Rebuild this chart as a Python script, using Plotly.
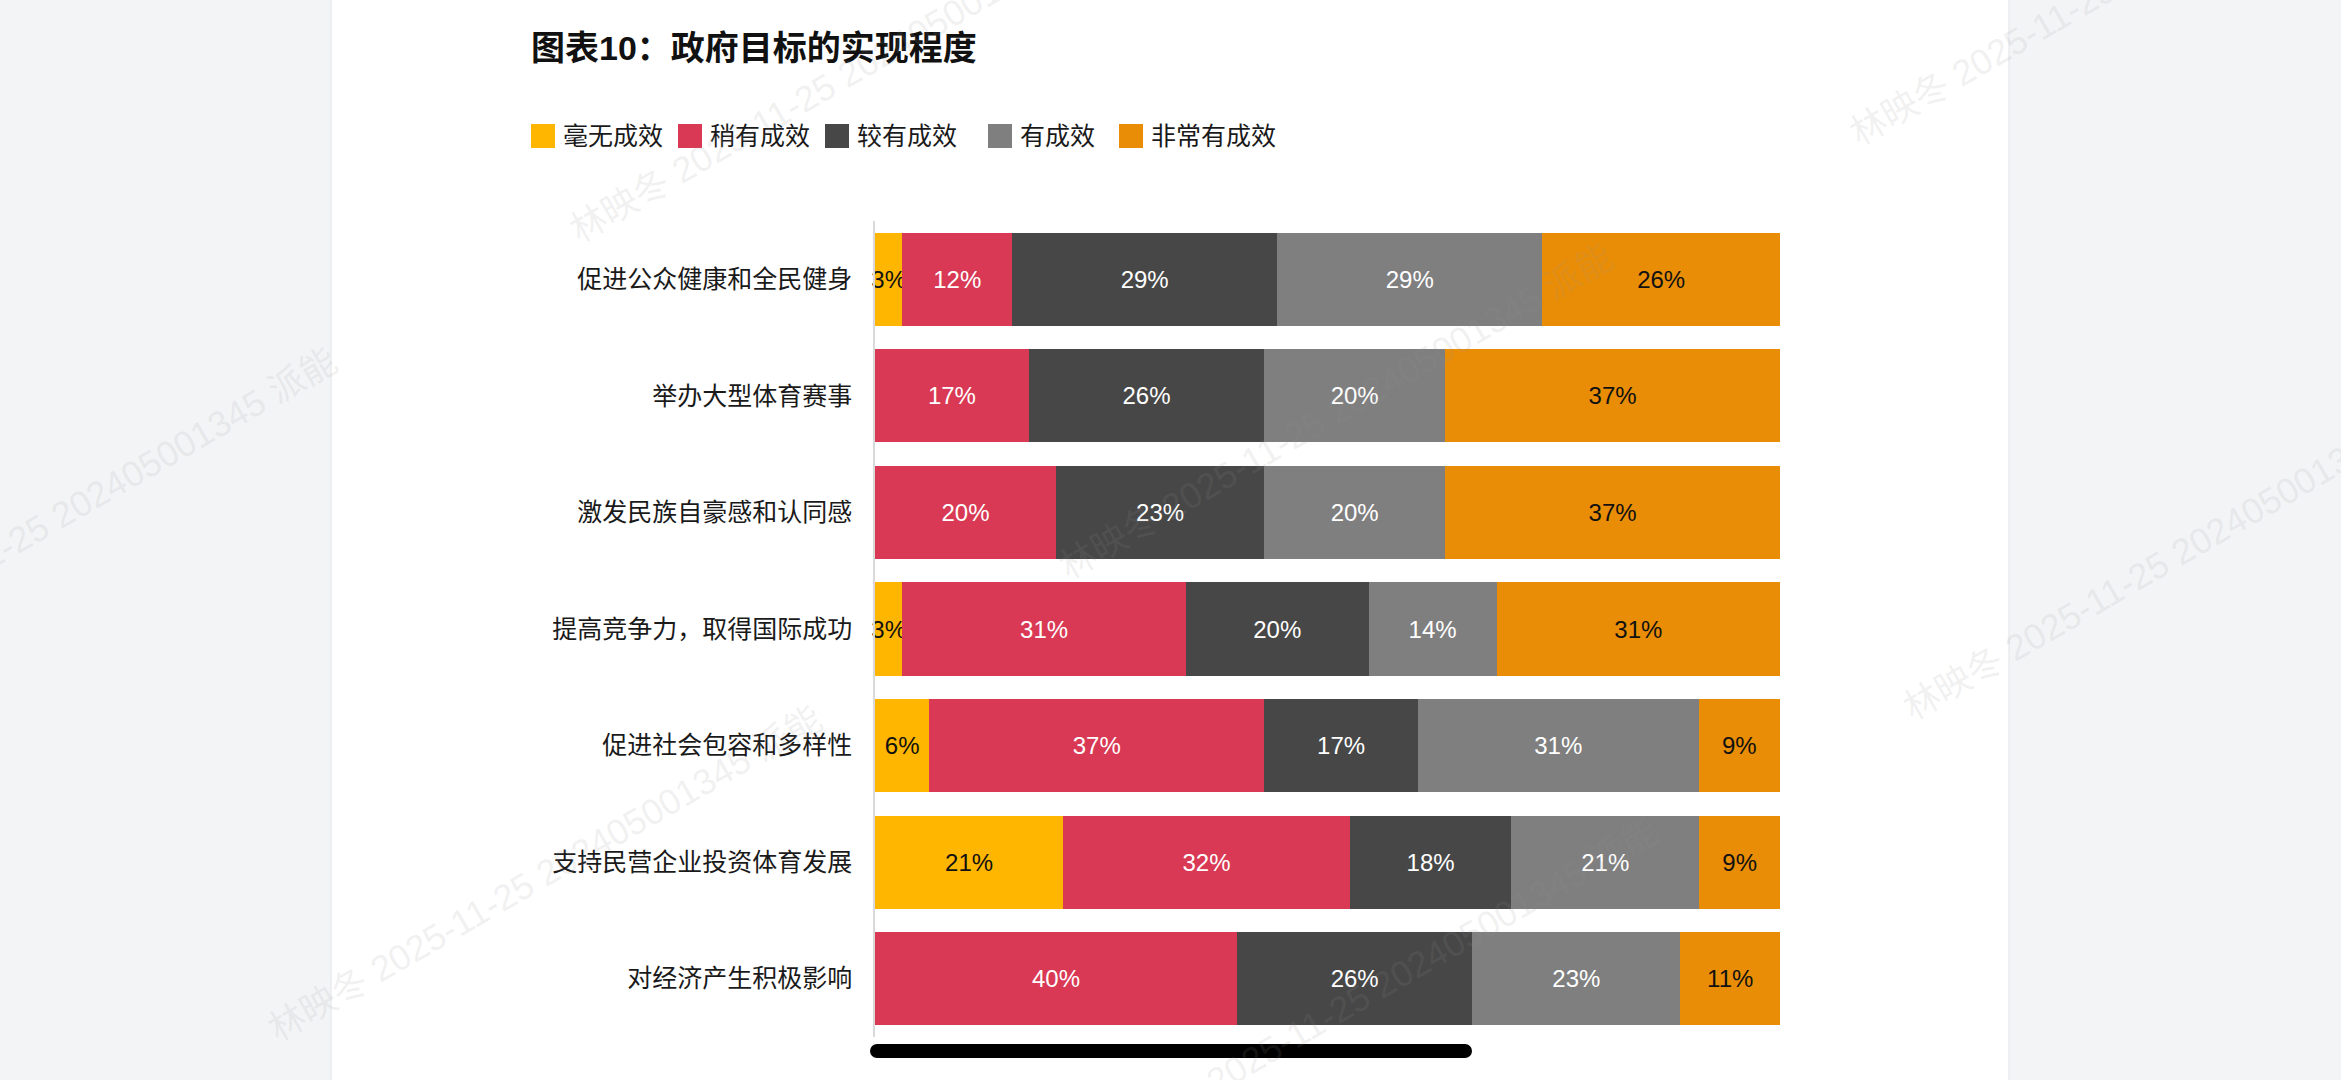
import plotly.graph_objects as go

# ---------------- data ----------------
categories = [
    "促进公众健康和全民健身",
    "举办大型体育赛事",
    "激发民族自豪感和认同感",
    "提高竞争力，取得国际成功",
    "促进社会包容和多样性",
    "支持民营企业投资体育发展",
    "对经济产生积极影响",
]
series_names = ["毫无成效", "稍有成效", "较有成效", "有成效", "非常有成效"]
no_effect = [3, None, None, 3, 6, 21, None]
slight_effect = [12, 17, 20, 31, 37, 32, 40]
fair_effect = [29, 26, 23, 20, 17, 18, 26]
effective = [29, 20, 20, 14, 31, 21, 23]
very_effective = [26, 37, 37, 31, 9, 9, 11]
series_values = [no_effect, slight_effect, fair_effect, effective, very_effective]

title_text = "图表10：政府目标的实现程度"
watermark_text = "林映冬 2025-11-25 202405001345 派能"

# ---------------- styles ----------------
colors = ["#FFB600", "#D93954", "#474747", "#7F7F7F", "#E98D06"]
text_colors = ["#111111", "#FFFFFF", "#FFFFFF", "#FFFFFF", "#111111"]
FONT = "Liberation Sans, Arial, Noto Sans CJK SC, sans-serif"

W, H = 2341, 1080
ML, MR, MT, MB = 875, 561, 221, 43
PW, PH = W - ML - MR, H - MT - MB


def px(x):
    return (x - ML) / PW


def py(y):
    return (H - MB - y) / PH


fig = go.Figure()
for name, vals, col, tcol in zip(series_names, series_values, colors, text_colors):
    fig.add_trace(go.Bar(
        y=categories,
        x=vals,
        name=name,
        orientation="h",
        marker=dict(color=col, line=dict(width=0)),
        text=[f"{v}%" if v else "" for v in vals],
        textposition="inside",
        insidetextanchor="middle",
        textangle=0,
        constraintext="none",
        cliponaxis=False,
        insidetextfont=dict(family=FONT, size=24, color=tcol),
        showlegend=False,
        hoverinfo="skip",
    ))

shapes = []
annotations = []

# white card
shapes.append(dict(type="rect", xref="paper", yref="paper",
                   x0=px(331), x1=px(2009), y0=py(1100), y1=py(-20),
                   fillcolor="#FFFFFF", line=dict(width=0), layer="below"))
for ex in (331, 2009):
    shapes.append(dict(type="line", xref="paper", yref="paper",
                       x0=px(ex), x1=px(ex), y0=py(1100), y1=py(-20),
                       line=dict(color="#E9EBEE", width=1.5), layer="below"))

# manual legend
legend_sq_x = [531, 678, 825, 988, 1119]
for name, col, lx in zip(series_names, colors, legend_sq_x):
    shapes.append(dict(type="rect", xref="paper", yref="paper",
                       x0=px(lx), x1=px(lx + 24), y0=py(148), y1=py(124),
                       fillcolor=col, line=dict(width=0)))
    annotations.append(dict(text=name, xref="paper", yref="paper",
                            x=px(lx + 30), y=py(136), xanchor="left", yanchor="middle",
                            showarrow=False, font=dict(family=FONT, size=25, color="#1A1A1A")))

# scroll indicator
shapes.append(dict(type="rect", xref="paper", yref="paper",
                   x0=px(877), x1=px(1465), y0=py(1058), y1=py(1044),
                   fillcolor="#000000", line=dict(width=0)))
for cx in (877, 1465):
    shapes.append(dict(type="circle", xref="paper", yref="paper",
                       x0=px(cx - 7), x1=px(cx + 7), y0=py(1058), y1=py(1044),
                       fillcolor="#000000", line=dict(width=0)))

# faint watermarks
wm_centers = [(847, 75), (1336, 411), (545, 873), (60, 515), (1381, 985), (2180, 552), (2127, -22)]
for wx, wy in wm_centers:
    annotations.append(dict(text=watermark_text, xref="paper", yref="paper",
                            x=px(wx), y=py(wy), xanchor="center", yanchor="middle",
                            textangle=-30, showarrow=False,
                            font=dict(family=FONT, size=36, color="rgba(150,150,150,0.14)")))

fig.update_layout(
    width=W, height=H,
    margin=dict(l=ML, r=MR, t=MT, b=MB, pad=0),
    paper_bgcolor="#F3F4F6",
    plot_bgcolor="rgba(0,0,0,0)",
    barmode="stack",
    barnorm="percent",
    bargap=0.2,
    title=dict(text=f"<b>{title_text}</b>", xref="container", yref="container",
               x=531 / W, y=1 - 48 / H, xanchor="left", yanchor="middle",
               font=dict(family=FONT, size=34, color="#111111")),
    xaxis=dict(range=[0, 100], visible=False, fixedrange=True),
    yaxis=dict(autorange="reversed", showline=True, linecolor="#D9D9D9", linewidth=1.5,
               ticks="", ticklabelstandoff=16, showgrid=False, zeroline=False,
               tickfont=dict(family=FONT, size=25, color="#1A1A1A")),
    shapes=shapes,
    annotations=annotations,
    showlegend=False,
    font=dict(family=FONT),
)

fig.write_html("out.html")
